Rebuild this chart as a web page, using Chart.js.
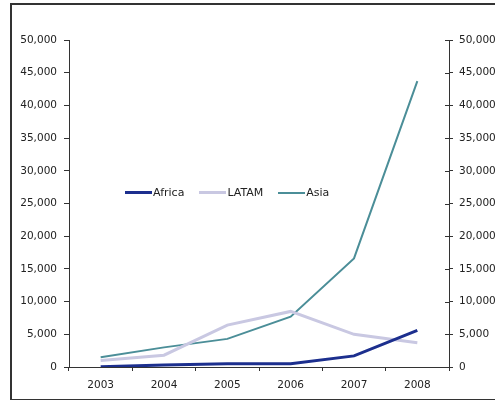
<!DOCTYPE html>
<html>
<head>
<meta charset="utf-8">
<script src="https://cdn.jsdelivr.net/npm/chart.js@4/dist/chart.umd.min.js"></script>
<style>
  body { margin: 0; background: #fff; }
  #wrap { position: relative; width: 495px; height: 400px; overflow: hidden; }
  #frame { position: absolute; left: 10px; top: 3px; width: 520px; height: 394px; border: 2px solid #333; pointer-events: none; }
  #legend { position: absolute; left: 125px; top: 186px; display: flex; font: 11px "DejaVu Sans", sans-serif; color: #222; }
  #legend .item { display: flex; align-items: center; margin-right: 15px; }
  #legend .swatch { width: 27px; margin-right: 1px; }
</style>
</head>
<body>
<div id="wrap">
  <canvas id="myChart" width="495" height="400"></canvas>
  <div id="frame"></div>
  <div id="legend"></div>
</div>
<script>
let years = ["2003", "2004", "2005", "2006", "2007", "2008"];
let africa = [50, 300, 500, 500, 1700, 5600];
let latam = [1000, 1800, 6400, 8500, 5000, 3700];
let asia = [1500, 3000, 4300, 7700, 16600, 43700];

let fmt = (v) => Number(v).toLocaleString("en-US");
let axisColor = "#333";
let tickFont = { family: "DejaVu Sans", size: 10.5 };

let sets = [
  { label: "Africa", data: africa, borderColor: "#1c2f8e", borderWidth: 3 },
  { label: "LATAM", data: latam, borderColor: "#c9c8e2", borderWidth: 3 },
  { label: "Asia", data: asia, borderColor: "#4b8e98", borderWidth: 2 }
];

// right axis ticks cross the axis line, draw the inner half
let crossTicks = {
  id: "crossTicks",
  afterDraw: (chart) => {
    let s = chart.scales.y1;
    let ctx = chart.ctx;
    ctx.save();
    ctx.strokeStyle = axisColor;
    ctx.lineWidth = 1;
    s.ticks.forEach((t, i) => {
      let py = Math.round(s.getPixelForTick(i)) + 0.5;
      ctx.beginPath();
      ctx.moveTo(s.left - 4, py);
      ctx.lineTo(s.left, py);
      ctx.stroke();
    });
    ctx.restore();
  }
};

Chart.defaults.color = "#222";

new Chart(document.getElementById("myChart"), {
  type: "line",
  data: {
    labels: years,
    datasets: sets.map((s) => ({
      label: s.label,
      data: s.data,
      borderColor: s.borderColor,
      backgroundColor: s.borderColor,
      borderWidth: s.borderWidth,
      pointRadius: 0,
      tension: 0,
      yAxisID: "y"
    }))
  },
  options: {
    responsive: false,
    animation: false,
    layout: { padding: { top: 40, left: 0, right: 0, bottom: 0 } },
    plugins: { legend: { display: false }, tooltip: { enabled: false } },
    scales: {
      x: {
        offset: true,
        grid: { offset: true, drawOnChartArea: false, tickLength: 4, color: axisColor },
        border: { color: axisColor },
        ticks: { font: tickFont, padding: 8, color: "#222" },
        afterFit: (scale) => { scale.height = 33; }
      },
      y: {
        position: "left",
        min: 0, max: 50000,
        grid: { drawOnChartArea: false, tickLength: 5, color: axisColor },
        border: { color: axisColor },
        ticks: { stepSize: 5000, font: tickFont, padding: 7, color: "#222", callback: fmt },
        afterFit: (scale) => { scale.width = 69; }
      },
      y1: {
        position: "right",
        min: 0, max: 50000,
        grid: { drawOnChartArea: false, tickLength: 4, color: axisColor },
        border: { color: axisColor },
        ticks: { stepSize: 5000, font: tickFont, padding: 6, color: "#222", callback: fmt },
        afterFit: (scale) => { scale.width = 46; }
      }
    }
  },
  plugins: [crossTicks]
});

// legend sits inside the plot, built from the same series
let legend = document.getElementById("legend");
sets.forEach((s) => {
  let item = document.createElement("div");
  item.className = "item";
  let sw = document.createElement("div");
  sw.className = "swatch";
  sw.style.borderTop = `${s.borderWidth}px solid ${s.borderColor}`;
  let txt = document.createElement("span");
  txt.textContent = s.label;
  item.appendChild(sw);
  item.appendChild(txt);
  legend.appendChild(item);
});
</script>
</body>
</html>
